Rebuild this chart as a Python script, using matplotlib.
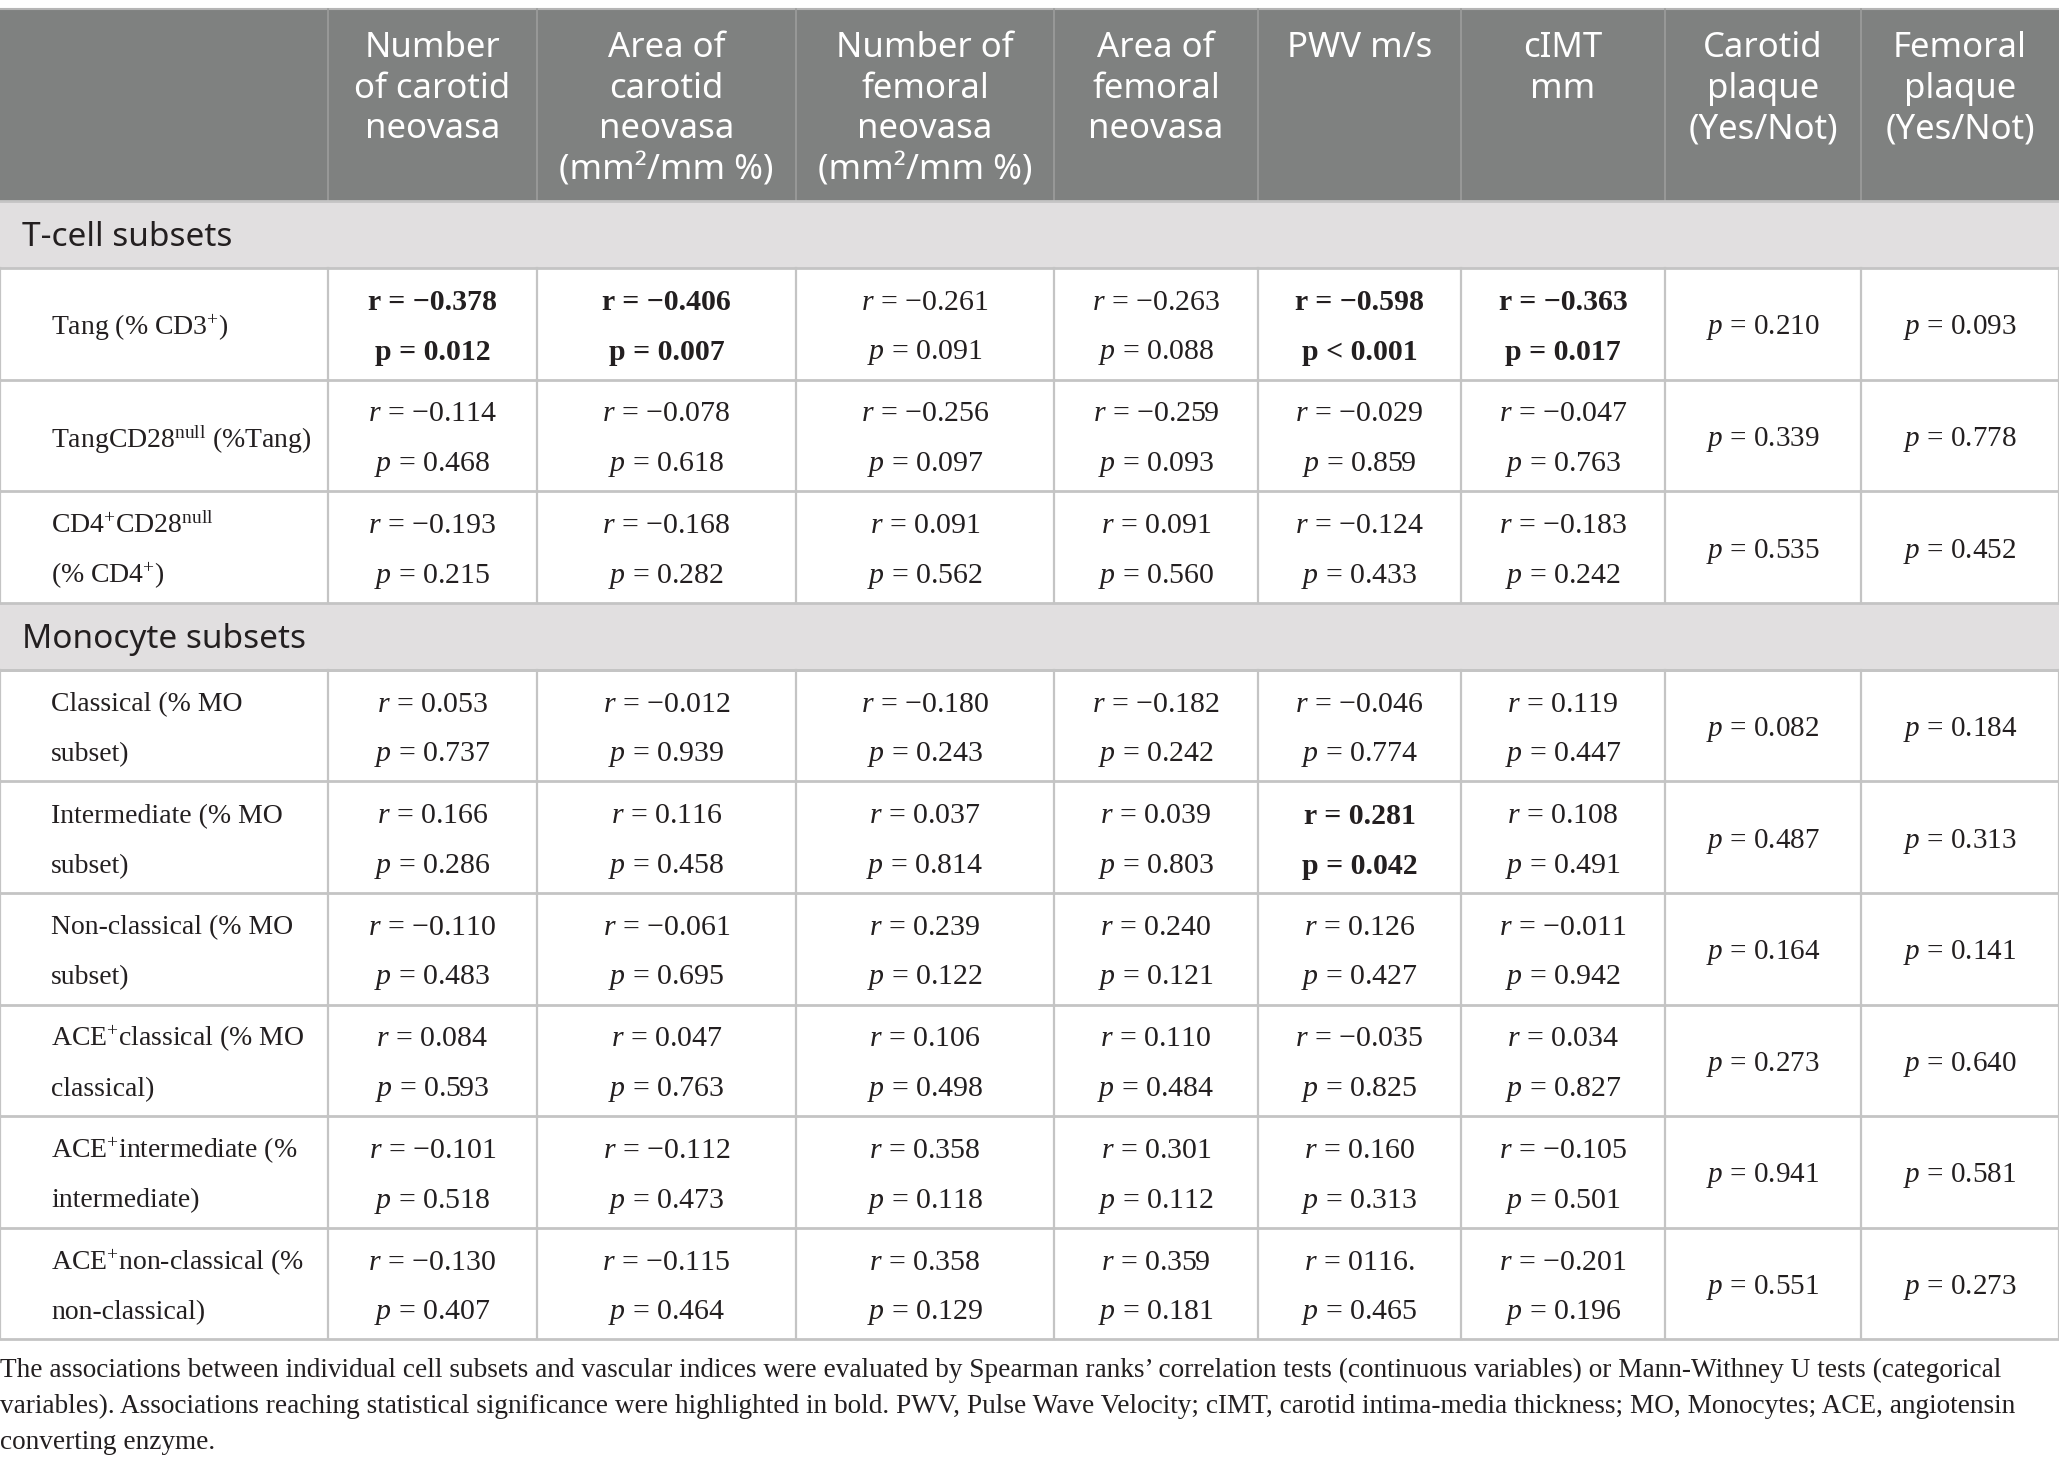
import matplotlib.pyplot as plt
from matplotlib.patches import Rectangle

plt.rcParams['mathtext.fontset'] = 'custom'
plt.rcParams['mathtext.rm'] = 'Liberation Serif'
plt.rcParams['mathtext.it'] = 'Liberation Serif:italic'
plt.rcParams['mathtext.bf'] = 'Liberation Serif:bold'

# ---- data ----
headers = [
    ['Number', 'of carotid', 'neovasa'],
    ['Area of', 'carotid', 'neovasa', '(mm²/mm %)'],
    ['Number of', 'femoral', 'neovasa', '(mm²/mm %)'],
    ['Area of', 'femoral', 'neovasa'],
    ['PWV m/s'],
    ['cIMT', 'mm'],
    ['Carotid', 'plaque', '(Yes/Not)'],
    ['Femoral', 'plaque', '(Yes/Not)'],
]

tcell_labels = [
    ['Tang (% CD3$^{+}$)'],
    ['TangCD28$^{\\mathrm{null}}$ (%Tang)'],
    ['CD4$^{+}$CD28$^{\\mathrm{null}}$', '(% CD4$^{+}$)'],
]
mono_labels = [
    ['Classical (% MO', 'subset)'],
    ['Intermediate (% MO', 'subset)'],
    ['Non-classical (% MO', 'subset)'],
    ['ACE$^{+}$classical (% MO', 'classical)'],
    ['ACE$^{+}$intermediate (%', 'intermediate)'],
    ['ACE$^{+}$non-classical (%', 'non-classical)'],
]

# r and p for the six continuous columns, rows in table order
r_vals = [
    ['−0.378', '−0.406', '−0.261', '−0.263', '−0.598', '−0.363'],
    ['−0.114', '−0.078', '−0.256', '−0.259', '−0.029', '−0.047'],
    ['−0.193', '−0.168', '0.091', '0.091', '−0.124', '−0.183'],
    ['0.053', '−0.012', '−0.180', '−0.182', '−0.046', '0.119'],
    ['0.166', '0.116', '0.037', '0.039', '0.281', '0.108'],
    ['−0.110', '−0.061', '0.239', '0.240', '0.126', '−0.011'],
    ['0.084', '0.047', '0.106', '0.110', '−0.035', '0.034'],
    ['−0.101', '−0.112', '0.358', '0.301', '0.160', '−0.105'],
    ['−0.130', '−0.115', '0.358', '0.359', '0116.', '−0.201'],
]
p_vals = [
    ['= 0.012', '= 0.007', '= 0.091', '= 0.088', '< 0.001', '= 0.017'],
    ['= 0.468', '= 0.618', '= 0.097', '= 0.093', '= 0.859', '= 0.763'],
    ['= 0.215', '= 0.282', '= 0.562', '= 0.560', '= 0.433', '= 0.242'],
    ['= 0.737', '= 0.939', '= 0.243', '= 0.242', '= 0.774', '= 0.447'],
    ['= 0.286', '= 0.458', '= 0.814', '= 0.803', '= 0.042', '= 0.491'],
    ['= 0.483', '= 0.695', '= 0.122', '= 0.121', '= 0.427', '= 0.942'],
    ['= 0.593', '= 0.763', '= 0.498', '= 0.484', '= 0.825', '= 0.827'],
    ['= 0.518', '= 0.473', '= 0.118', '= 0.112', '= 0.313', '= 0.501'],
    ['= 0.407', '= 0.464', '= 0.129', '= 0.181', '= 0.465', '= 0.196'],
]
plaque_p = [
    ['0.210', '0.093'],
    ['0.339', '0.778'],
    ['0.535', '0.452'],
    ['0.082', '0.184'],
    ['0.487', '0.313'],
    ['0.164', '0.141'],
    ['0.273', '0.640'],
    ['0.941', '0.581'],
    ['0.551', '0.273'],
]
# (row, col) cells reaching significance
bold_cells = [(0, 0), (0, 1), (0, 4), (0, 5), (4, 4)]

footnote = [
    "The associations between individual cell subsets and vascular indices were evaluated by Spearman ranks’ correlation tests (continuous variables) or Mann-Withney U tests (categorical",
    "variables). Associations reaching statistical significance were highlighted in bold. PWV, Pulse Wave Velocity; cIMT, carotid intima-media thickness; MO, Monocytes; ACE, angiotensin",
    "converting enzyme.",
]

# ---- layout (pixels) ----
W, H = 2059, 1471
col_edges = [0, 328, 537, 796, 1054, 1258, 1461, 1665, 1861, 2059]
head_top, head_bot = 9, 201
group_h = 67
row_h = 111.6

header_bg = '#7f8180'
group_bg = '#e1dfe0'
grid_c = '#c4c4c4'
text_c = '#231f20'
serif = 'Liberation Serif'
sans = 'Noto Sans'

fig = plt.figure(figsize=(W / 100, H / 100), dpi=100)
ax = fig.add_axes([0, 0, 1, 1])
ax.set_xlim(0, W)
ax.set_ylim(H, 0)
ax.axis('off')

# header
ax.add_patch(Rectangle((0, head_top), W, head_bot - head_top, color=header_bg, lw=0))
ax.plot([0, W], [head_top, head_top], color='#b5b5b5', lw=1.5)
for x in col_edges[1:-1]:
    ax.plot([x, x], [head_top, head_bot], color='#9c9d9c', lw=1.2)
for j, lines in enumerate(headers):
    cx = (col_edges[j + 1] + col_edges[j + 2]) / 2
    for k, line in enumerate(lines):
        ax.text(cx, 48 + k * 40.7, line, ha='center', va='center', color='white',
                fontsize=25, family=sans, fontweight='light')

# body rows
y = head_bot
row_spans = []
group_spans = []
all_labels = []
for name, labels in [('T-cell subsets', tcell_labels), ('Monocyte subsets', mono_labels)]:
    group_spans.append((name, y))
    y += group_h
    for lab in labels:
        row_spans.append(y)
        all_labels.append(lab)
        y += row_h
table_bot = y

for name, gy in group_spans:
    ax.add_patch(Rectangle((0, gy), W, group_h, color=group_bg, lw=0))
    ax.text(22, gy + group_h / 2 + 3, name, ha='left', va='center', color=text_c,
            fontsize=24, family=sans)

off = 4  # small downward shift of the text baseline
for i, ry in enumerate(row_spans):
    cy = ry + row_h / 2 + off
    lab = all_labels[i]
    if len(lab) == 1:
        ax.text(51, cy, lab[0], ha='left', va='center', color=text_c, fontsize=20, family=serif)
    else:
        for k, line in enumerate(lab):
            ax.text(51, cy - 25 + 50 * k, line, ha='left', va='center', color=text_c,
                    fontsize=20, family=serif)
    for j in range(6):
        cx = (col_edges[j + 1] + col_edges[j + 2]) / 2
        if (i, j) in bold_cells:
            rt = 'r = ' + r_vals[i][j]
            pt = 'p ' + p_vals[i][j]
            wt = 'bold'
        else:
            rt = '$r$ = ' + r_vals[i][j]
            pt = '$p$ ' + p_vals[i][j]
            wt = 'normal'
        ax.text(cx, cy - 25, rt, ha='center', va='center', color=text_c, fontsize=21.5,
                family=serif, fontweight=wt)
        ax.text(cx, cy + 25, pt, ha='center', va='center', color=text_c, fontsize=21.5,
                family=serif, fontweight=wt)
    for j in range(2):
        cx = (col_edges[7 + j] + col_edges[8 + j]) / 2
        ax.text(cx, cy, '$p$ = ' + plaque_p[i][j], ha='center', va='center', color=text_c,
                fontsize=21, family=serif)

# grid lines
hlines = [head_bot] + [g[1] + group_h for g in group_spans] + [g[1] for g in group_spans[1:]]
hlines += row_spans[1:] + [table_bot]
for hy in hlines:
    ax.plot([0, W], [hy, hy], color=grid_c, lw=2)
for ry in row_spans:
    for x in col_edges:
        ax.plot([x, x], [ry, ry + row_h], color=grid_c, lw=1.6)

# footnote
for k, line in enumerate(footnote):
    ax.text(0, table_bot + 31 + 36 * k, line, ha='left', va='center', color=text_c,
            fontsize=19.6, family=serif)

fig.savefig('out.png', dpi=100)
